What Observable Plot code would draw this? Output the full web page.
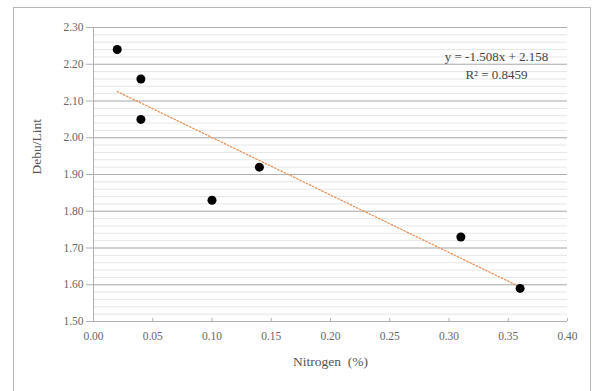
<!DOCTYPE html>
<html>
<head>
<meta charset="utf-8">
<script src="https://cdn.jsdelivr.net/npm/d3@7"></script>
<script src="https://cdn.jsdelivr.net/npm/@observablehq/plot@0.6"></script>
<style>
  html, body { margin: 0; padding: 0; background: #fff; }
  #wrap { position: relative; width: 596px; height: 391px; overflow: hidden; }
  #border { position: absolute; left: 13px; top: 7px; width: 578px; height: 400px; border: 1px solid #b8b8b8; box-sizing: border-box; }
  #chart { position: absolute; left: 0; top: 0; }
</style>
</head>
<body>
<div id="wrap"><div id="border"></div><div id="chart"></div></div>
<script>
const nitrogen = [0.02, 0.04, 0.04, 0.10, 0.14, 0.31, 0.36];
const debuLint = [2.24, 2.16, 2.05, 1.83, 1.92, 1.73, 1.59];
const xTicks = [0.00, 0.05, 0.10, 0.15, 0.20, 0.25, 0.30, 0.35, 0.40];
const yTicks = [1.50, 1.60, 1.70, 1.80, 1.90, 2.00, 2.10, 2.20, 2.30];
const equationLines = ["y = -1.508x + 2.158", "R\u00b2 = 0.8459"];
const xLabel = "Nitrogen  (%)";
const yLabel = "Debu/Lint";

const data = nitrogen.map((x, i) => ({x, y: debuLint[i]}));
const font = "'Liberation Serif', 'Times New Roman', serif";

const chart = Plot.plot({
  width: 596,
  height: 391,
  marginLeft: 93,
  marginRight: 29,
  marginTop: 27,
  marginBottom: 70,
  style: {fontFamily: font, fontSize: "11.5px", color: "#555", background: "transparent"},
  x: {domain: [0, 0.40]},
  y: {domain: [1.50, 2.30]},
  marks: [
    Plot.gridY({interval: 0.02, stroke: "#e6e6e6", strokeOpacity: 1}),
    Plot.ruleY(yTicks, {x1: -0.006, x2: 0.40, stroke: "#b0b0b0"}),
    Plot.ruleX([0], {stroke: "#b0b0b0"}),
    Plot.axisY(yTicks, {tickFormat: d3.format(".2f"), tickSize: 0, tickPadding: 10, label: null, fill: "#666"}),
    Plot.axisX(xTicks, {tickFormat: d3.format(".2f"), tickSize: 0, tickPadding: 10, label: null, fill: "#666"}),
    Plot.ruleX(xTicks, {x: d => d, y1: 1.50, y2: 1.508, stroke: "#b0b0b0"}),
    Plot.text([xLabel], {frameAnchor: "bottom", dy: 44, fontSize: 13.5, fill: "#555"}),
    Plot.text([yLabel], {frameAnchor: "left", dx: -57, rotate: -90, fontSize: 13.5, fill: "#555"}),
    Plot.linearRegressionY(data, {x: "x", y: "y", ci: 0, stroke: "#e8945a", strokeWidth: 1.3, strokeDasharray: "1.5,2"}),
    Plot.dot(data, {x: "x", y: "y", r: 4.5, fill: "#000"}),
    Plot.text([equationLines.join("\n")], {frameAnchor: "top-right", dx: -71, dy: 21, lineHeight: 1.35, fontSize: 13, fill: "#444", textAnchor: "middle"})
  ]
});
document.getElementById("chart").appendChild(chart);
</script>
</body>
</html>
